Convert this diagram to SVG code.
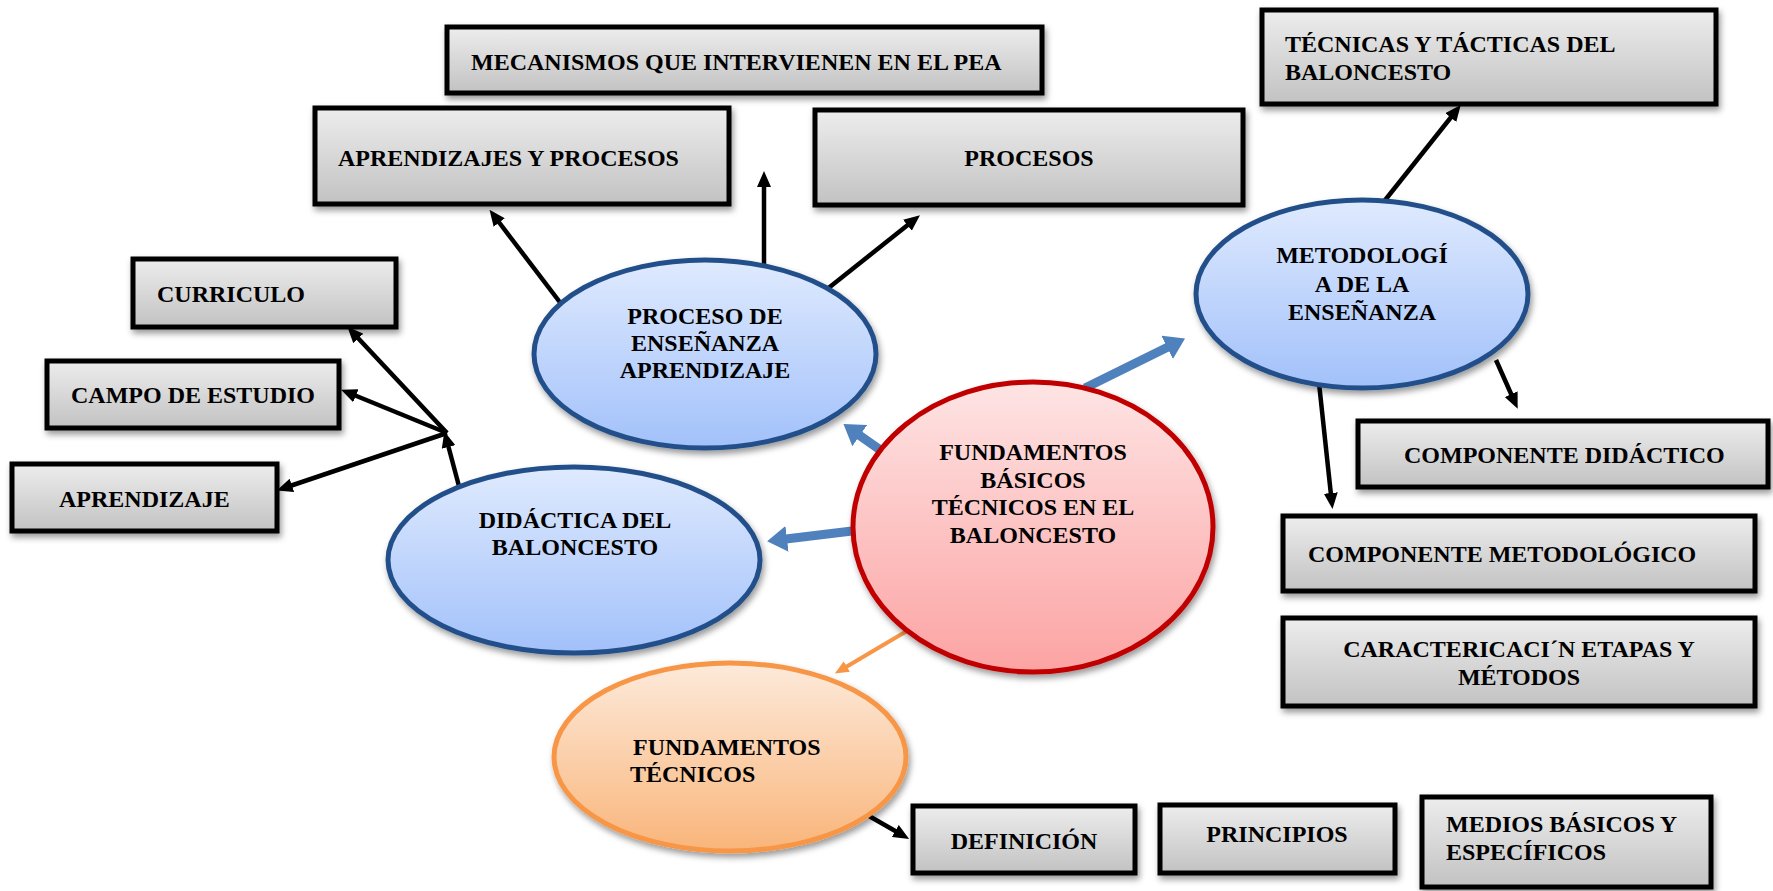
<svg xmlns="http://www.w3.org/2000/svg" width="1773" height="891" viewBox="0 0 1773 891">
<style>
.t{font-family:"Liberation Serif","Times New Roman",serif;font-weight:bold;font-size:24px;fill:#000}
.c{text-anchor:middle}
.box{fill:url(#gBox);stroke:#000;stroke-width:5;filter:url(#sh)}
.eb{fill:url(#gBlue);stroke:#24508a;stroke-width:5;filter:url(#sh)}
.er{fill:url(#gRed);stroke:#c00000;stroke-width:5;filter:url(#sh)}
.eo{fill:url(#gOr);stroke:#f79646;stroke-width:5;filter:url(#sh)}
.k{stroke:#000;stroke-width:4.5;fill:none;marker-end:url(#mk)}
.b{stroke:#4f81bd;stroke-width:9;fill:none;marker-end:url(#mb)}
.o{stroke:#f79646;stroke-width:4;fill:none;marker-end:url(#mo)}
</style>
<defs>
<linearGradient id="gBox" x1="0" y1="0" x2="0" y2="1"><stop offset="0" stop-color="#ededed"/><stop offset="1" stop-color="#c2c2c2"/></linearGradient>
<linearGradient id="gBlue" x1="0" y1="0" x2="0" y2="1"><stop offset="0" stop-color="#dfeafe"/><stop offset="1" stop-color="#a2c1fa"/></linearGradient>
<linearGradient id="gRed" x1="0" y1="0" x2="0" y2="1"><stop offset="0" stop-color="#fee4e4"/><stop offset="1" stop-color="#fca3a3"/></linearGradient>
<linearGradient id="gOr" x1="0" y1="0" x2="0" y2="1"><stop offset="0" stop-color="#fdeadb"/><stop offset="1" stop-color="#f9b57a"/></linearGradient>
<filter id="sh" x="-10%" y="-10%" width="125%" height="130%"><feDropShadow dx="2" dy="4" stdDeviation="3" flood-color="#000" flood-opacity="0.4"/></filter>
<marker id="mk" markerUnits="userSpaceOnUse" markerWidth="16" markerHeight="14" refX="2" refY="7" orient="auto"><path d="M0,0 L16,7 L0,14 z" fill="#000"/></marker>
<marker id="mo" markerUnits="userSpaceOnUse" markerWidth="14" markerHeight="12" refX="1" refY="6" orient="auto"><path d="M0,0 L14,6 L0,12 z" fill="#f79646"/></marker>
<marker id="mb" markerUnits="userSpaceOnUse" markerWidth="20" markerHeight="26" refX="1" refY="13" orient="auto"><path d="M0,0 L20,13 L0,26 z" fill="#4f81bd"/></marker>
</defs>

<g id="connectors">
<line class="k" x1="562" y1="305" x2="498" y2="221"/>
<line class="k" x1="764" y1="276" x2="764" y2="185"/>
<line class="k" x1="826" y1="290" x2="909" y2="224"/>
<line class="k" x1="460" y1="490" x2="448" y2="445"/>
<line class="k" x1="447" y1="433" x2="357" y2="337"/>
<line class="k" x1="447" y1="433" x2="354" y2="395"/>
<line class="k" x1="447" y1="433" x2="290" y2="486"/>
<line class="k" x1="1382" y1="204" x2="1452" y2="116"/>
<line class="k" x1="1496" y1="360" x2="1512" y2="396"/>
<line class="k" x1="1319" y1="383" x2="1331" y2="495"/>
<line class="k" x1="862" y1="812" x2="897" y2="832"/>
<line class="b" x1="886" y1="454" x2="859" y2="435"/>
<line class="b" x1="852" y1="531" x2="786" y2="539"/>
<line class="b" x1="1085" y1="388" x2="1168" y2="347"/>
<line class="o" x1="917" y1="625" x2="846" y2="667"/>
</g>

<g id="n-mecanismos"><rect class="box" x="447" y="27" width="595" height="66"/><text class="t" x="471" y="70">MECANISMOS QUE INTERVIENEN EN EL PEA</text></g>
<g id="n-aprendizajes-procesos"><rect class="box" x="315" y="108" width="414" height="96"/><text class="t" x="338" y="166">APRENDIZAJES Y PROCESOS</text></g>
<g id="n-procesos"><rect class="box" x="815" y="110" width="428" height="95"/><text class="t c" x="1029" y="166">PROCESOS</text></g>
<g id="n-tecnicas"><rect class="box" x="1262" y="10" width="454" height="94"/><text class="t" x="1285" y="52">TÉCNICAS Y TÁCTICAS DEL</text><text class="t" x="1285" y="80">BALONCESTO</text></g>
<g id="n-curriculo"><rect class="box" x="133" y="259" width="263" height="68"/><text class="t" x="157" y="302">CURRICULO</text></g>
<g id="n-campo"><rect class="box" x="47" y="361" width="292" height="67"/><text class="t" x="71" y="403">CAMPO DE ESTUDIO</text></g>
<g id="n-aprendizaje"><rect class="box" x="12" y="464" width="265" height="67"/><text class="t" x="59" y="507">APRENDIZAJE</text></g>
<g id="n-comp-didactico"><rect class="box" x="1358" y="421" width="410" height="66"/><text class="t" x="1404" y="463">COMPONENTE DIDÁCTICO</text></g>
<g id="n-comp-metodologico"><rect class="box" x="1283" y="516" width="472" height="75"/><text class="t" x="1308" y="562">COMPONENTE METODOLÓGICO</text></g>
<g id="n-caracterizacion"><rect class="box" x="1283" y="618" width="472" height="88"/><text class="t c" x="1519" y="657">CARACTERICACI´N ETAPAS Y</text><text class="t c" x="1519" y="685">MÉTODOS</text></g>
<g id="n-definicion"><rect class="box" x="913" y="806" width="222" height="67"/><text class="t c" x="1024" y="849">DEFINICIÓN</text></g>
<g id="n-principios"><rect class="box" x="1160" y="805" width="235" height="68"/><text class="t c" x="1277" y="842">PRINCIPIOS</text></g>
<g id="n-medios"><rect class="box" x="1422" y="797" width="289" height="90"/><text class="t" x="1446" y="832">MEDIOS BÁSICOS Y</text><text class="t" x="1446" y="860">ESPECÍFICOS</text></g>

<g id="n-proceso-ea"><ellipse class="eb" cx="705" cy="354" rx="171" ry="94"/><text class="t c" x="705" y="324">PROCESO DE</text><text class="t c" x="705" y="351">ENSEÑANZA</text><text class="t c" x="705" y="378">APRENDIZAJE</text></g>
<g id="n-didactica"><ellipse class="eb" cx="574" cy="560" rx="186" ry="93"/><text class="t c" x="575" y="528">DIDÁCTICA DEL</text><text class="t c" x="575" y="555">BALONCESTO</text></g>
<g id="n-metodologia"><ellipse class="eb" cx="1362" cy="294" rx="166" ry="94"/><text class="t c" x="1362" y="263">METODOLOGÍ</text><text class="t c" x="1362" y="292">A DE LA</text><text class="t c" x="1362" y="320">ENSEÑANZA</text></g>
<g id="n-fundamentos-basicos"><ellipse class="er" cx="1033" cy="527" rx="180" ry="145"/><text class="t c" x="1033" y="460">FUNDAMENTOS</text><text class="t c" x="1033" y="488">BÁSICOS</text><text class="t c" x="1033" y="515">TÉCNICOS EN EL</text><text class="t c" x="1033" y="543">BALONCESTO</text></g>
<g id="n-fundamentos-tecnicos"><ellipse class="eo" cx="730" cy="757" rx="176" ry="94"/><text class="t" x="633" y="755">FUNDAMENTOS</text><text class="t" x="630" y="782">TÉCNICOS</text></g>
</svg>
